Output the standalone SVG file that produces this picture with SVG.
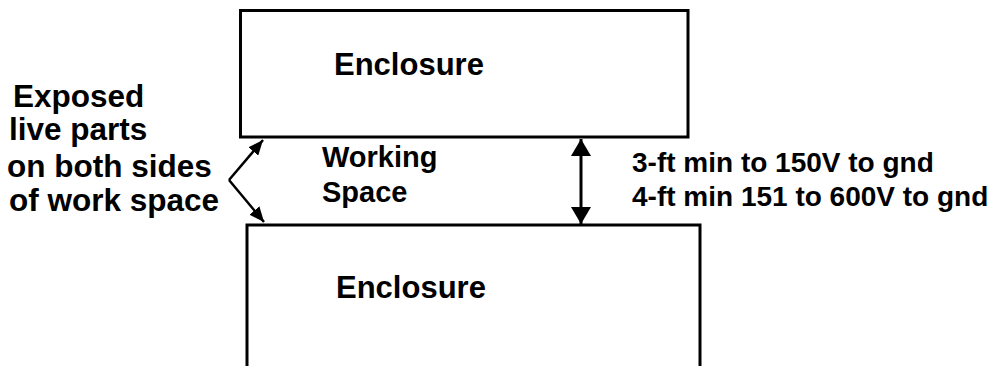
<svg xmlns="http://www.w3.org/2000/svg" width="1005" height="366" viewBox="0 0 1005 366">
<style>
  text { font-family: "Liberation Sans", Arial, sans-serif; font-weight: bold; fill: #000; }
  .box { fill: #fff; stroke: #000; stroke-width: 3; }
  .big { font-size: 31px; }
  .ws { font-size: 29px; }
  .lbl { font-size: 31.5px; }
  .dim { font-size: 28px; }
  .conn { stroke: #000; fill: none; }
</style>
<defs>
  <marker id="ahBig" viewBox="0 0 17 20" refX="17" refY="10" markerWidth="17" markerHeight="20" markerUnits="userSpaceOnUse" orient="auto-start-reverse">
    <path d="M0,0 L17,10 L0,20 Z" fill="#000"/>
  </marker>
  <marker id="ahSmall" viewBox="0 0 15 13" refX="15" refY="6.5" markerWidth="15" markerHeight="13" markerUnits="userSpaceOnUse" orient="auto">
    <path d="M0,0 L15,6.5 L0,13 Z" fill="#000"/>
  </marker>
</defs>
<rect width="1005" height="366" fill="#fff"/>
<g id="enclosure-top">
  <rect class="box" x="240.5" y="10.5" width="447.5" height="126.5"/>
  <text class="big" x="334" y="75">Enclosure</text>
</g>
<g id="enclosure-bottom">
  <path class="box" d="M247,368 V225 H700 V368"/>
  <text class="big" x="336" y="298">Enclosure</text>
</g>
<g id="working-space">
  <text class="ws" x="322" y="167">Working</text>
  <text class="ws" x="322" y="202">Space</text>
</g>
<g id="exposed-label">
  <text class="lbl" x="13" y="107">Exposed</text>
  <text class="lbl" x="9" y="140">live parts</text>
  <text class="lbl" x="7" y="177">on both sides</text>
  <text class="lbl" x="9" y="211">of work space</text>
</g>
<g id="clearance-label">
  <text class="dim" x="632" y="172">3-ft min to 150V to gnd</text>
  <text class="dim" x="632" y="206">4-ft min 151 to 600V to gnd</text>
</g>
<g id="connectors">
  <line class="conn" x1="229" y1="180" x2="263" y2="140" stroke-width="2.5" marker-end="url(#ahSmall)"/>
  <line class="conn" x1="229" y1="180" x2="264" y2="222" stroke-width="2.5" marker-end="url(#ahSmall)"/>
  <line class="conn" x1="581" y1="139" x2="581" y2="224" stroke-width="3" marker-start="url(#ahBig)" marker-end="url(#ahBig)"/>
</g>
</svg>
